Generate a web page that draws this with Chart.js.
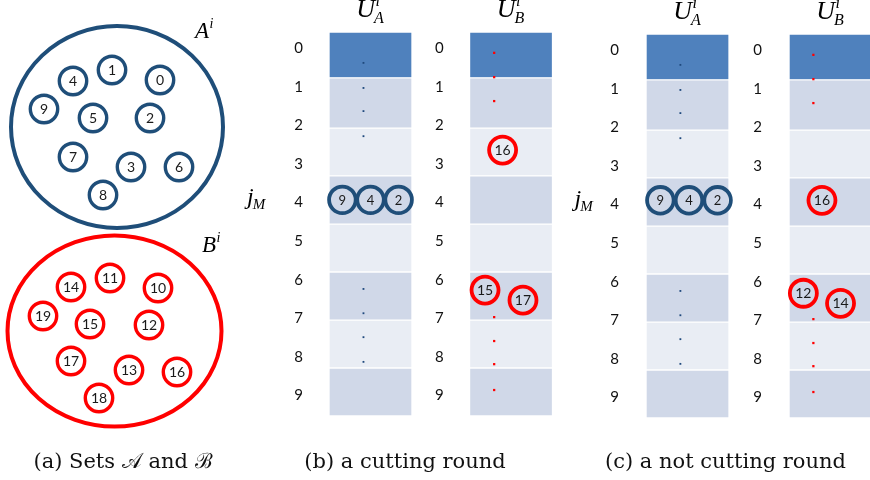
<!DOCTYPE html>
<html>
<head>
<meta charset="utf-8">
<script src="https://cdn.jsdelivr.net/npm/chart.js@4.4.0/dist/chart.umd.min.js"></script>
<style>
  html, body { margin: 0; padding: 0; background: #fff; }
  #wrap { position: relative; width: 870px; height: 480px; overflow: hidden; }
  canvas { position: absolute; top: 0; }
  #setsChart { left: 0; }
  #cutChart { left: 240px; }
  #noCutChart { left: 560px; }
</style>
</head>
<body>
<div id="wrap">
  <canvas id="setsChart" width="246" height="480"></canvas>
  <canvas id="cutChart" width="325" height="480"></canvas>
  <canvas id="noCutChart" width="310" height="480"></canvas>
</div>
<script>
// ---- panel (a): the two sets, node positions ----
const setANodes = ['0', '1', '2', '3', '4', '5', '6', '7', '8', '9'];
const setAX = [160, 112, 150, 131, 73, 93, 179, 73, 103, 44];
const setAY = [80, 70, 118, 167, 81, 118, 167, 157, 195, 109];
const setBNodes = ['10', '11', '12', '13', '14', '15', '16', '17', '18', '19'];
const setBX = [158, 110, 149, 129, 71, 90, 177, 71, 99, 43];
const setBY = [288, 278, 325, 370, 287, 324, 372, 361, 398, 316];
// outlines of A^i and B^i
const setNames = ['A', 'B'];
const setCX = [117, 114.5];
const setCY = [127, 331];
const setRX = [106, 107];
const setRY = [101, 95.5];

// ---- panels (b) and (c): the two tables U_A (x = 0) and U_B (x = 1) ----
const stateRows = [0, 1, 2, 3, 4, 5, 6, 7, 8, 9];
const columnIds = [0, 1];
const bandLo = [-0.42, 0.77, 2.07, 3.31, 4.56, 5.80, 7.05, 8.29];
const bandHi = [0.77, 2.07, 3.31, 4.56, 5.80, 7.05, 8.29, 9.53];
const dotRowsA = [0.38, 1.03, 1.63, 2.28, 6.24, 6.87, 7.49, 8.13];
const dotRowsB = [0.12, 0.75, 1.37, 6.97, 7.59, 8.19, 8.86];
const jM = 4;

// (b) a cutting round
const cutALabels = ['9', '4', '2'];
const cutAX = [-0.2, 0.0, 0.2];
const cutAY = [3.93, 3.93, 3.93];
const cutBLabels = ['16', '15', '17'];
const cutBX = [0.94, 0.815, 1.085];
const cutBY = [2.64, 6.27, 6.53];

// (c) a not cutting round
const noCutALabels = ['9', '4', '2'];
const noCutAX = [-0.19, 0.01, 0.21];
const noCutAY = [3.89, 3.89, 3.89];
const noCutBLabels = ['16', '12', '14'];
const noCutBX = [0.94, 0.81, 1.07];
const noCutBY = [3.89, 6.30, 6.56];

const BLUE = '#1f4e79';
const RED = '#ff0000';
const bandColors = ['#4f81bd', '#d0d8e8', '#e9edf4', '#d0d8e8', '#e9edf4', '#d0d8e8', '#e9edf4', '#d0d8e8'];
const captionFont = { family: '"DejaVu Serif", serif', size: 21, weight: 'normal', lineHeight: 1.2 };
const SERIF = '"Liberation Serif", "DejaVu Serif", serif';

Chart.defaults.animation = false;
Chart.defaults.events = [];

const pts = (xs, ys) => xs.map((x, i) => ({ x, y: ys[i] }));

// draws the labels written inside the circles
const nodeLabels = {
  id: 'nodeLabels',
  afterDatasetsDraw(chart) {
    const ctx = chart.ctx;
    chart.data.datasets.forEach((ds, i) => {
      if (!ds.nodeLabels) return;
      const meta = chart.getDatasetMeta(i);
      ctx.save();
      ctx.font = (ds.labelSize || 14) + 'px Lato, "Open Sans", sans-serif';
      ctx.fillStyle = '#1a1a1a';
      ctx.textAlign = 'center';
      ctx.textBaseline = 'middle';
      meta.data.forEach((p, j) => ctx.fillText(ds.nodeLabels[j], p.x, p.y + 0.5));
      ctx.restore();
    });
  }
};

// italic symbol with optional subscript / superscript
function drawMath(ctx, x, y, it) {
  const size = it.size;
  const small = Math.round(size * 0.62);
  ctx.font = `italic ${size}px ${SERIF}`;
  const wb = ctx.measureText(it.base).width;
  ctx.font = `italic ${small}px ${SERIF}`;
  const ws = it.sub ? ctx.measureText(it.sub).width : 0;
  const wp = it.sup ? ctx.measureText(it.sup).width : 0;
  const total = wb + Math.max(ws, wp);
  const x0 = it.align === 'center' ? x - total / 2 : x;
  ctx.fillStyle = '#000';
  ctx.textAlign = 'left';
  ctx.textBaseline = 'alphabetic';
  ctx.font = `italic ${size}px ${SERIF}`;
  ctx.fillText(it.base, x0, y);
  ctx.font = `italic ${small}px ${SERIF}`;
  if (it.sub) ctx.fillText(it.sub, x0 + wb - size * 0.04, y + size * 0.22);
  if (it.sup) ctx.fillText(it.sup, x0 + wb + size * 0.02, y - size * 0.45);
}

const mathLabels = {
  id: 'mathLabels',
  afterDraw(chart, args, opts) {
    const ctx = chart.ctx;
    const xs = chart.scales.x, ys = chart.scales.y;
    ctx.save();
    (opts.items || []).forEach(it => {
      drawMath(ctx, xs.getPixelForValue(it.x), ys.getPixelForValue(it.y), it);
    });
    ctx.restore();
  }
};

// outlines of the two sets
const setOutlines = {
  id: 'setOutlines',
  beforeDatasetsDraw(chart) {
    const ctx = chart.ctx;
    const xs = chart.scales.x, ys = chart.scales.y;
    ctx.save();
    setNames.forEach((n, i) => {
      const cx = xs.getPixelForValue(setCX[i]);
      const cy = ys.getPixelForValue(setCY[i]);
      const rx = Math.abs(xs.getPixelForValue(setCX[i] + setRX[i]) - cx);
      const ry = Math.abs(ys.getPixelForValue(setCY[i] + setRY[i]) - cy);
      ctx.beginPath();
      ctx.ellipse(cx, cy, rx, ry, 0, 0, Math.PI * 2);
      ctx.lineWidth = 4;
      ctx.strokeStyle = i === 0 ? BLUE : RED;
      ctx.stroke();
    });
    ctx.restore();
  }
};

function circleSet(labels, xs, ys, color) {
  return {
    type: 'scatter',
    data: pts(xs, ys),
    nodeLabels: labels,
    pointStyle: 'circle',
    pointRadius: 13.7,
    borderWidth: 3.4,
    borderColor: color,
    backgroundColor: 'rgba(255,255,255,0)',
    clip: false,
    order: 0
  };
}

new Chart('setsChart', {
  type: 'scatter',
  data: {
    datasets: [
      circleSet(setANodes, setAX, setAY, BLUE),
      circleSet(setBNodes, setBX, setBY, RED)
    ]
  },
  options: {
    responsive: false,
    layout: { padding: 0, autoPadding: false },
    scales: {
      x: { type: 'linear', min: 0, max: 246, display: false },
      y: { type: 'linear', min: 0, max: 434, reverse: true, display: false }
    },
    plugins: {
      legend: { display: false },
      tooltip: { enabled: false },
      title: {
        display: true, position: 'bottom', text: '(a) Sets 𝒜 and ℬ',
        font: captionFont, color: '#111', padding: { top: 16.4, bottom: 4.4 }
      },
      mathLabels: {
        items: [
          { base: 'A', sup: 'i', x: 195, y: 38, size: 23 },
          { base: 'B', sup: 'i', x: 202, y: 252, size: 23 }
        ]
      }
    }
  },
  plugins: [setOutlines, nodeLabels, mathLabels]
});

function rowAxis(col) {
  return {
    type: 'linear', reverse: true, min: -1.25, max: 10,
    position: { x: col - 0.48 },
    grid: { display: false, drawTicks: false },
    border: { display: false },
    afterBuildTicks: s => { s.ticks = stateRows.map(v => ({ value: v })); },
    afterFit: s => { s.width = 0; s.paddingTop = 0; s.paddingBottom = 0; },
    ticks: {
      padding: 0, color: '#111', autoSkip: false,
      font: { family: 'Lato, "Open Sans", sans-serif', size: 15 },
      callback: v => String(v)
    }
  };
}

function roundChart(id, cfg) {
  const bands = [];
  const bandFill = [];
  columnIds.forEach(c => bandLo.forEach((lo, i) => {
    bands.push({ x: c, y: [lo, bandHi[i]] });
    bandFill.push(bandColors[i]);
  }));
  return new Chart(id, {
    type: 'bar',
    data: {
      datasets: [
        {
          type: 'bar', data: bands, backgroundColor: bandFill,
          borderColor: '#ffffff', borderWidth: 1, borderSkipped: false,
          barThickness: 83, grouped: false, clip: false, order: 3
        },
        {
          type: 'scatter', data: dotRowsA.map(r => ({ x: columnIds[0] - 0.05, y: r })),
          pointStyle: 'rect', pointRadius: 1.3, borderWidth: 0,
          backgroundColor: '#1f497d', order: 2
        },
        {
          type: 'scatter', data: dotRowsB.map(r => ({ x: columnIds[1] - 0.12, y: r })),
          pointStyle: 'rect', pointRadius: 1.6, borderWidth: 0,
          backgroundColor: RED, order: 2
        },
        Object.assign(circleSet(cfg.aLabels, cfg.aX, cfg.aY, BLUE), { borderWidth: 3.8, pointRadius: 13.3, labelSize: 13 }),
        Object.assign(circleSet(cfg.bLabels, cfg.bX, cfg.bY, RED), { borderWidth: 3.8, pointRadius: 13.5 })
      ]
    },
    options: {
      responsive: false,
      layout: { padding: { left: cfg.padLeft, top: cfg.padTop, right: 0, bottom: 0 }, autoPadding: false },
      scales: {
        x: { type: 'linear', min: cfg.xMin, max: cfg.xMax, offset: false, display: false },
        y: rowAxis(columnIds[0]),
        y2: rowAxis(columnIds[1])
      },
      plugins: {
        legend: { display: false },
        tooltip: { enabled: false },
        title: {
          display: true, position: 'bottom', text: cfg.caption,
          font: captionFont, color: '#111', padding: { top: cfg.titleTop, bottom: 4.4 }
        },
        mathLabels: {
          items: [
            { base: 'U', sub: 'A', sup: 'i', x: columnIds[0], y: -0.8, size: 26, align: 'center' },
            { base: 'U', sub: 'B', sup: 'i', x: columnIds[1], y: -0.8, size: 26, align: 'center' },
            { base: 'j', sub: 'M', x: cfg.jmX, y: jM + 0.03, size: 24, align: 'center' }
          ]
        }
      }
    },
    plugins: [nodeLabels, mathLabels]
  });
}

roundChart('cutChart', {
  caption: '(b) a cutting round',
  aLabels: cutALabels, aX: cutAX, aY: cutAY,
  bLabels: cutBLabels, bX: cutBX, bY: cutBY,
  xMin: -0.893, xMax: 1.384, padLeft: 5, padTop: 0, titleTop: 16.4, jmX: -0.81
});

roundChart('noCutChart', {
  caption: '(c) a not cutting round',
  aLabels: noCutALabels, aX: noCutAX, aY: noCutAY,
  bLabels: noCutBLabels, bX: noCutBX, bY: noCutBY,
  xMin: -0.745, xMax: 1.276, padLeft: 21, padTop: 2, titleTop: 14.4, jmX: -0.724
});
</script>
</body>
</html>
